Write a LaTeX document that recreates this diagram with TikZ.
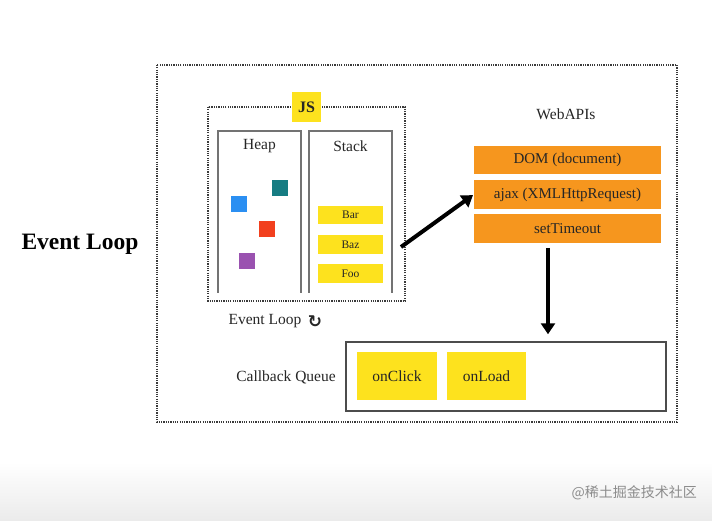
\documentclass[tikz,border=0pt]{standalone}
\usepackage{fontspec}
\setmainfont{Liberation Serif}
\newfontfamily\cjk{Noto Sans CJK SC}
\newfontfamily\dejavu{DejaVu Sans}
\usetikzlibrary{arrows.meta}
\definecolor{jsyellow}{HTML}{FDE21E}
\definecolor{apiorange}{HTML}{F6961E}
\definecolor{sqblue}{HTML}{2B8FF2}
\definecolor{sqteal}{HTML}{167C82}
\definecolor{sqred}{HTML}{F2401E}
\definecolor{sqpurple}{HTML}{9A52B0}
\definecolor{frame}{HTML}{3A3A3A}
\tikzset{
  dotframe/.style={draw=frame, line width=2.3pt, dash pattern=on 1.2pt off 1.1pt},
  panel/.style={draw=black!55, line width=1.5pt},
  ybox/.style={fill=jsyellow, draw=none, inner sep=0pt},
  obox/.style={fill=apiorange, draw=none, inner sep=0pt, minimum width=187pt, minimum height=28.5pt, font=\fontsize{15}{17}\selectfont, text=black!85},
  sq/.style={draw=none, minimum size=16pt, inner sep=0pt},
  lbl/.style={font=\fontsize{15.5}{18}\selectfont, text=black!85, inner sep=0pt},
  smallbox/.style={ybox, minimum width=65pt, font=\fontsize{11.5}{13}\selectfont, text=black!85},
  bigarrow/.style={-{Triangle[length=11pt,width=14pt]}, line width=4pt}
}
\begin{document}
\begin{tikzpicture}[x=1pt,y=-1pt]
\useasboundingbox (0,0) rectangle (712,521);
\fill[white] (0,0) rectangle (712,521);
\shade[top color=white, bottom color=black!8] (0,462) rectangle (712,521);
\node[text=black!45, font=\cjk\fontsize{14}{16}\selectfont, anchor=east, inner sep=0pt] (wm) at (697,493) {@稀土掘金技术社区};

% outer frame
\draw[dotframe] (157,65) rectangle (677,422);
\node[font=\bfseries\fontsize{23.5}{27}\selectfont, inner sep=0pt] (title) at (80,244) {Event Loop};

% JS engine box
\draw[dotframe] (208,107) rectangle (405,301);
\node[ybox, minimum width=29pt, minimum height=30pt, font=\bfseries\fontsize{16}{18}\selectfont, text=black!85] (js) at (306.5,107) {JS};

% Heap and Stack panels
\draw[panel] (218,293) -- (218,131) -- (301,131) -- (301,293);
\draw[panel] (309,293) -- (309,131) -- (392,131) -- (392,293);
\node[lbl] (heap) at (259.5,146) {Heap};
\node[lbl] (stack) at (350.5,146) {Stack};

% heap objects
\node[sq, fill=sqteal] (s1) at (280,188.5) {};
\node[sq, fill=sqblue] (s2) at (239,204.5) {};
\node[sq, fill=sqred] (s3) at (267,229) {};
\node[sq, fill=sqpurple] (s4) at (247,261) {};

% stack frames
\node[smallbox, minimum height=18.5pt] (bar) at (350.5,215) {Bar};
\node[smallbox, minimum height=18.5pt] (baz) at (350.5,244.5) {Baz};
\node[smallbox, minimum height=19pt] (foo) at (350.5,274) {Foo};

\node[lbl] (el) at (265,321) {Event Loop};
\node[font=\dejavu\bfseries\fontsize{17}{19}\selectfont, inner sep=0pt, text=black!85] (loopicon) at (315,322) {↻};

% Web APIs
\node[lbl] (webapis) at (566,114) {WebAPIs};
\node[obox] (dom) at (567.5,160) {DOM (document)};
\node[obox] (ajax) at (567.5,194.5) {ajax (XMLHttpRequest)};
\node[obox] (timeout) at (567.5,228.5) {setTimeout};

% callback queue
\node[draw=black!70, line width=1.5pt, minimum width=320pt, minimum height=69pt, inner sep=0pt] (queue) at (506,376.5) {};
\node[lbl] (cbq) at (286,377) {Callback Queue};
\node[ybox, minimum width=80pt, minimum height=48pt, font=\fontsize{15.5}{18}\selectfont, text=black!85] (onclick) at (397,376) {onClick};
\node[ybox, minimum width=79pt, minimum height=48pt, font=\fontsize{15.5}{18}\selectfont, text=black!85] (onload) at (486.5,376) {onLoad};

% arrows
\coordinate (a1s) at (401,247);
\coordinate (a2s) at (548,248);
\draw[bigarrow, shorten >=1pt] (a1s) -- (ajax.west);
\draw[bigarrow, shorten >=7pt] (a2s) -- (a2s |- queue.north);
\end{tikzpicture}
\end{document}
